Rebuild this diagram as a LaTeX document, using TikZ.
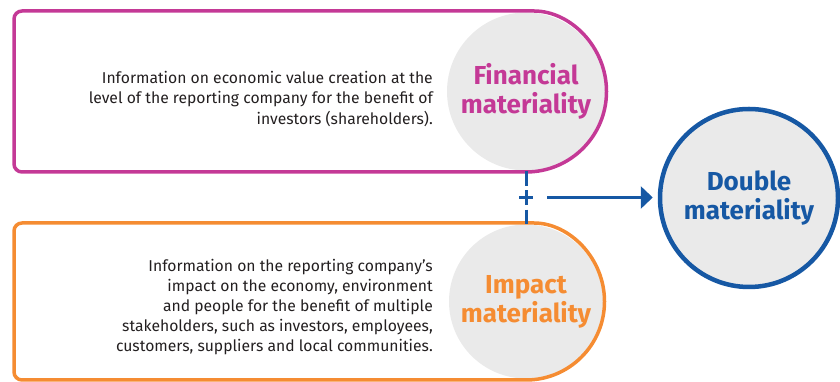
\documentclass[tikz,border=0pt]{standalone}
\usepackage{fontspec}
\setmainfont{Fira Sans}
\usetikzlibrary{arrows.meta,calc}
\definecolor{finc}{HTML}{C43996}
\definecolor{impc}{HTML}{F58C32}
\definecolor{dblc}{HTML}{1658A4}
\definecolor{grayfill}{HTML}{EAEAEA}
\definecolor{txt}{HTML}{231F20}
\tikzset{
  x=1pt,y=1pt,
  gcircle/.style={circle,fill=grayfill,inner sep=0pt,align=center,font=\fontsize{26}{29}\selectfont\bfseries},
  boxline/.style={line width=3.5pt},
  desc/.style={anchor=east,align=right,text=txt,inner sep=0pt,font=\fontsize{15.7}{20.2}\selectfont},
  link/.style={draw=dblc,line width=3pt},
}
\begin{document}
\begin{tikzpicture}
\useasboundingbox (0,0) rectangle (840,382);
% gray circles
\node[gcircle,minimum size=158pt,text=finc] (fin) at (526,290.5) {Financial\\materiality};
\node[gcircle,minimum size=154pt,text=impc] (imp) at (526,80.5) {Impact\\materiality};
% box outlines
\draw[boxline,draw=finc,rounded corners=8pt] (526,210) -- (14,210) -- (14,371) -- (526,371) [sharp corners] arc[start angle=90,end angle=-90,radius=80.5];
\draw[boxline,draw=impc,rounded corners=8pt] (526,2) -- (14,2) -- (14,159) -- (526,159) [sharp corners] arc[start angle=90,end angle=-90,radius=78.5];
% descriptions
\node[desc] (fintext) at (433,283) {Information on economic value creation at the\\level of the reporting company for the benefit of\\investors (shareholders).};
\node[desc] (imptext) at (433,75) {Information on the reporting company’s\\impact on the economy, environment\\and people for the benefit of multiple\\stakeholders, such as investors, employees,\\customers, suppliers and local communities.};
% double materiality
\node[circle,draw=dblc,line width=4.5pt,fill=grayfill,minimum size=178pt,inner sep=0pt,align=center,text=dblc,font=\fontsize{26}{29}\selectfont\bfseries] (dbl) at (749,184) {Double\\materiality};
% plus connector
\draw[link,dash pattern=on 15pt off 4.5pt] (fin.south) -- (imp.north);
\coordinate (plus) at ($(fin.south)!0.5!(imp.north)$);
\draw[link] ($(plus)+(-7,0)$) -- ($(plus)+(7,0)$);
\coordinate (arrstart) at ($(plus)+(21,0)$);
\draw[link,-{Triangle[length=12pt,width=22pt]},shorten >=5pt] (arrstart) -- (arrstart -| dbl.west);
\end{tikzpicture}
\end{document}
